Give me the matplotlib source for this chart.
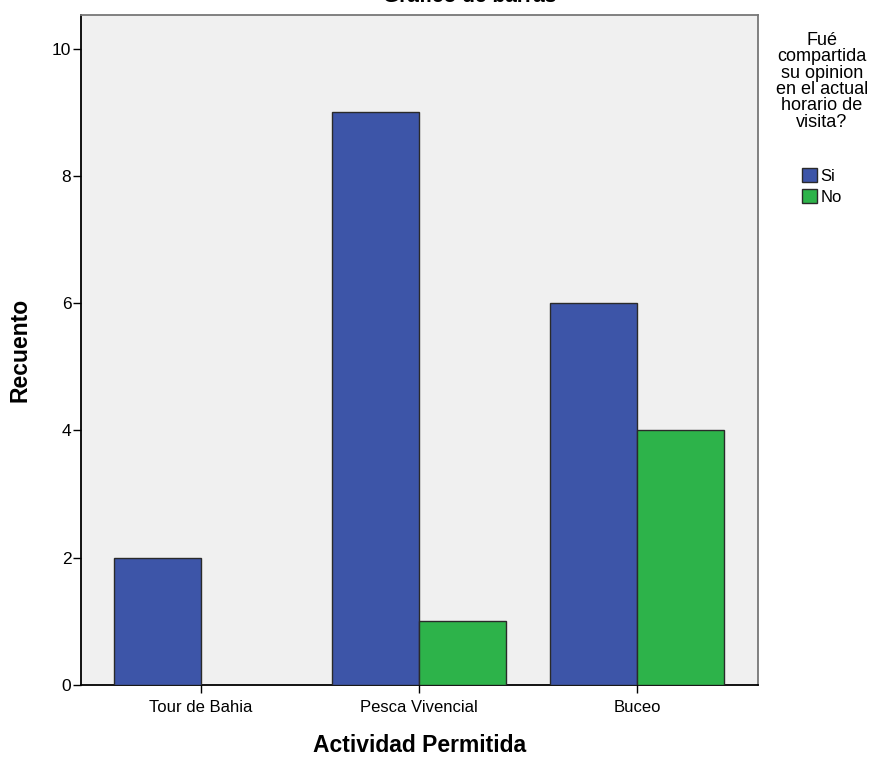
import matplotlib
matplotlib.use("Agg")
import matplotlib.pyplot as plt
import numpy as np
from matplotlib.patches import Patch

categories = ["Tour de Bahia", "Pesca Vivencial", "Buceo"]
si_values = [2, 9, 6]
no_values = [0, 1, 4]
series_labels = ["Si", "No"]
legend_title = "Fué\ncompartida\nsu opinion\nen el actual\nhorario de\nvisita?"

plt.rcParams['font.family'] = ['Liberation Sans', 'DejaVu Sans']

fig = plt.figure(figsize=(8.78, 7.58), dpi=100)
ax = fig.add_axes([81/878, 73/758, (758-81)/878, (685-15)/758])
ax.set_facecolor("#f0f0f0")

x = np.arange(len(categories))
w = 0.4
blue = "#3d55a8"
green = "#2db34a"
edge = "#2a2a2a"
ax.bar(x - w/2, si_values, width=w, color=blue,
       edgecolor=[edge if v > 0 else 'none' for v in si_values], linewidth=1.0, zorder=3)
ax.bar(x + w/2, no_values, width=w, color=green,
       edgecolor=[edge if v > 0 else 'none' for v in no_values], linewidth=1.0, zorder=3)

ax.set_xlim(-0.55, 2.555)
ax.set_ylim(0, 10.53)
ax.set_yticks([0, 2, 4, 6, 8, 10])
ax.set_xticks(x)
ax.set_xticklabels(categories)
ax.tick_params(axis='y', labelsize=12.5, length=6, width=1, direction='out', pad=1)
ax.tick_params(axis='x', labelsize=12, length=6, width=1, direction='out', pad=5)
for s in ['top', 'right']:
    ax.spines[s].set_color('#777777')
    ax.spines[s].set_linewidth(1.3)
for s in ['left', 'bottom']:
    ax.spines[s].set_color('black')
    ax.spines[s].set_linewidth(1.3)

ax.set_xlabel("Actividad Permitida", fontsize=16.5, fontweight='bold')
ax.set_ylabel("Recuento", fontsize=16.5, fontweight='bold')
ax.xaxis.set_label_coords((420-81)/677, -(746-685)/670)
ax.yaxis.set_label_coords(-(81-20)/677, (685-350)/670)
ax.xaxis.label.set_va('center')
ax.yaxis.label.set_va('center')

fig.text(470/878, 1.004, "Gráfico de barras", ha='center', va='center', fontsize=15, fontweight='bold')

handles = [Patch(facecolor=blue, edgecolor=edge, label=series_labels[0]),
           Patch(facecolor=green, edgecolor=edge, label=series_labels[1])]
leg = fig.legend(handles=handles, title=legend_title, loc='upper center',
                 bbox_to_anchor=(822/878, 1 - 32/758), frameon=False, fontsize=12,
                 title_fontsize=13, handlelength=0.9, handleheight=0.9,
                 handletextpad=0.2, labelspacing=0.3, borderaxespad=0, borderpad=0)
leg.get_title().set_multialignment('center')
leg.get_title().set_linespacing(0.95)
leg._legend_box.align = "center"
leg._legend_box.sep = 27

fig.savefig("out.png", dpi=100)
